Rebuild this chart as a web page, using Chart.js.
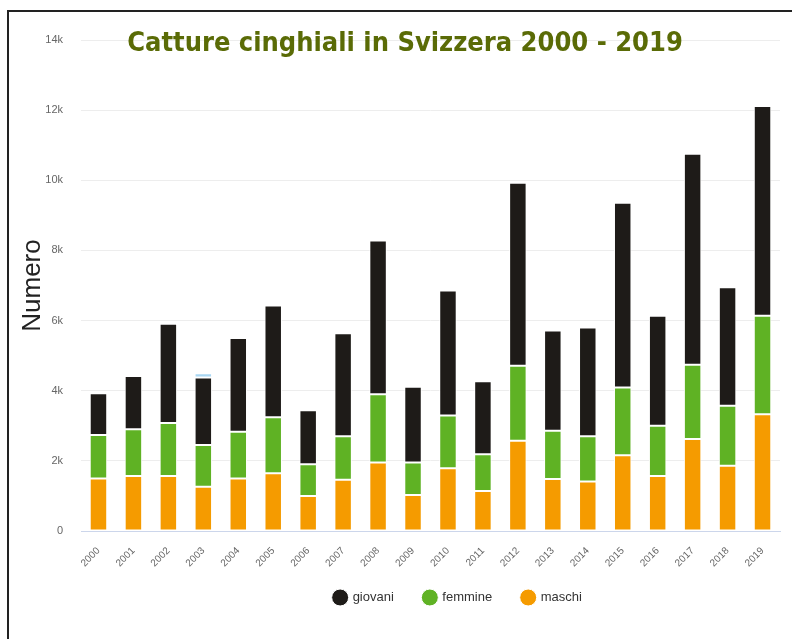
<!DOCTYPE html>
<html>
<head>
<meta charset="utf-8">
<script src="https://cdn.jsdelivr.net/npm/chart.js@4.4.1/dist/chart.umd.min.js"></script>
<style>
  html, body { margin: 0; padding: 0; background: #fff; }
  #wrap { position: relative; width: 792px; height: 639px; overflow: hidden; }
  #frame { position: absolute; left: 7px; top: 10px; width: 800px; height: 700px;
           border-left: 2px solid #222; border-top: 2px solid #222; pointer-events: none; }
</style>
</head>
<body>
<div id="wrap">
  <canvas id="chart" width="792" height="639"></canvas>
  <div id="frame"></div>
</div>
<script>
// Data
const years = ['2000', '2001', '2002', '2003', '2004', '2005', '2006', '2007', '2008', '2009',
               '2010', '2011', '2012', '2013', '2014', '2015', '2016', '2017', '2018', '2019'];
const maschi  = [1500, 1570, 1570, 1260, 1500, 1650, 1000, 1460, 1950, 1030,
                 1790, 1140, 2570, 1480, 1410, 2160, 1570, 2620, 1860, 3330];
const femmine = [1240, 1330, 1510, 1190, 1330, 1590, 900, 1240, 1950, 920,
                 1500, 1050, 2140, 1380, 1290, 1930, 1430, 2120, 1710, 2810];
const giovani = [1190, 1520, 2830, 1930, 2670, 3190, 1540, 2940, 4380, 2160,
                 3570, 2080, 5220, 2860, 3100, 5270, 3140, 6020, 3380, 5980];
// small light-blue segment on top of 2003, not shown in the legend
const altro   = [0, 0, 0, 115, 0, 0, 0, 0, 0, 0, 0, 0, 0, 0, 0, 0, 0, 0, 0, 0];
const yTickLabels = ['0', '2k', '4k', '6k', '8k', '10k', '12k', '14k'];

const chartTitle = 'Catture cinghiali in Svizzera 2000 - 2019';

// Title drawn over the plot, like in the original
const overlayTitle = {
  id: 'overlayTitle',
  afterDraw(chart) {
    const ctx = chart.ctx;
    ctx.save();
    ctx.font = 'bold 27px "DejaVu Sans Condensed", "DejaVu Sans", sans-serif';
    ctx.fillStyle = '#5a6b06';
    ctx.textAlign = 'center';
    ctx.textBaseline = 'middle';
    ctx.fillText(chartTitle, 405, 44);
    ctx.restore();
  }
};

// Move legend a bit (original is centred off-canvas and sits closer to the labels)
const legendShift = {
  id: 'legendShift',
  afterLayout(chart) {
    chart.legend.left += 68;
    chart.legend.right += 68;
    chart.legend.top -= 20;
    chart.legend.bottom -= 20;
  }
};

new Chart(document.getElementById('chart'), {
  type: 'bar',
  data: {
    labels: years,
    datasets: [
      { label: 'maschi', data: maschi, backgroundColor: '#f59b00' },
      { label: 'femmine', data: femmine, backgroundColor: '#5fb224' },
      { label: 'giovani', data: giovani, backgroundColor: '#1e1b18' },
      { label: 'altro', data: altro, backgroundColor: '#a8d6f2' }
    ]
  },
  options: {
    responsive: false,
    animation: false,
    layout: { padding: { left: 0, right: 12, top: 40, bottom: 5 } },
    datasets: {
      bar: {
        barPercentage: 0.5,
        categoryPercentage: 1,
        borderWidth: 1,
        borderColor: '#ffffff',
        borderSkipped: false
      }
    },
    plugins: {
      legend: {
        position: 'bottom',
        reverse: true,
        labels: {
          usePointStyle: true,
          pointStyle: 'circle',
          boxWidth: 12,
          boxHeight: 12,
          padding: 30,
          color: '#333',
          font: { family: 'Liberation Sans, Arial, sans-serif', size: 13 },
          filter: item => item.text !== 'altro'
        }
      },
      tooltip: { enabled: false }
    },
    scales: {
      x: {
        stacked: true,
        grid: { display: false },
        border: { display: true, color: '#ccd6eb', width: 1 },
        ticks: {
          minRotation: 45,
          maxRotation: 45,
          color: '#666',
          padding: 6,
          font: { family: 'Liberation Sans, Arial, sans-serif', size: 10 }
        },
        afterFit(scale) { scale.height = 50; }
      },
      y: {
        stacked: true,
        min: 0,
        max: 14000,
        grid: { color: '#ededed', drawTicks: false },
        border: { display: false },
        ticks: {
          stepSize: 2000,
          padding: 18,
          color: '#666',
          font: { family: 'Liberation Sans, Arial, sans-serif', size: 11 },
          callback: (v, i) => yTickLabels[i]
        },
        title: {
          display: true,
          text: 'Numero',
          color: '#222',
          padding: { top: 17, bottom: 0 },
          font: { family: 'Liberation Sans, Arial, sans-serif', size: 26 }
        },
        afterFit(scale) { scale.width = 81; }
      }
    }
  },
  plugins: [overlayTitle, legendShift]
});
</script>
</body>
</html>
